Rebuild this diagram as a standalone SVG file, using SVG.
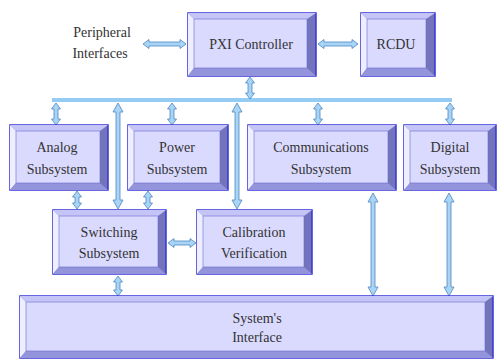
<svg xmlns="http://www.w3.org/2000/svg" width="501" height="360" viewBox="0 0 501 360">
<style>
.o{fill:#7474bc;stroke:#3434d8;stroke-width:1.5}
.t{fill:#c4c4f6}
.l{fill:#eeeeff}
.b{fill:#9494dc}
.f{fill:#dadaff;stroke:#6a6ad0;stroke-width:0.6}
.tx{font-size:14px;fill:#333333;text-anchor:middle}
.ar{fill:#a8d4f6;stroke:#4f86c0;stroke-width:0.8}
</style>
<rect width="501" height="360" fill="#ffffff"/>
<g id="connectors">
<rect x="52" y="98" width="400" height="4" fill="#94ccf4"/>
<polygon class="ar" points="143,44 149,39.5 149,42 180,42 180,39.5 186,44 180,48.5 180,46 149,46 149,48.5"/>
<polygon class="ar" points="318,44 324,39.5 324,42 352,42 352,39.5 358,44 352,48.5 352,46 324,46 324,48.5"/>
<polygon class="ar" points="250,77 254.5,83 252,83 252,93 254.5,93 250,99 245.5,93 248,93 248,83 245.5,83"/>
<polygon class="ar" points="56,103 60.5,109 58,109 58,119 60.5,119 56,125 51.5,119 54,119 54,109 51.5,109"/>
<polygon class="ar" points="172,103 176.5,109 174,109 174,119 176.5,119 172,125 167.5,119 170,119 170,109 167.5,109"/>
<polygon class="ar" points="318,103 322.5,109 320,109 320,119 322.5,119 318,125 313.5,119 316,119 316,109 313.5,109"/>
<polygon class="ar" points="450,103 454.5,109 452,109 452,119 454.5,119 450,125 445.5,119 448,119 448,109 445.5,109"/>
<polygon class="ar" points="118,103 123,112 120,112 120,200 123,200 118,209 113,200 116,200 116,112 113,112"/>
<polygon class="ar" points="237,103 242,112 239,112 239,200 242,200 237,209 232,200 235,200 235,112 232,112"/>
<polygon class="ar" points="77,191 81.5,197 79,197 79,203 81.5,203 77,209 72.5,203 75,203 75,197 72.5,197"/>
<polygon class="ar" points="148,191 152.5,197 150,197 150,203 152.5,203 148,209 143.5,203 146,203 146,197 143.5,197"/>
<polygon class="ar" points="168,243 174,238.5 174,241 190,241 190,238.5 196,243 190,247.5 190,245 174,245 174,247.5"/>
<polygon class="ar" points="118,276 122.5,282 120,282 120,290 122.5,290 118,296 113.5,290 116,290 116,282 113.5,282"/>
<polygon class="ar" points="373,193 378,202 375,202 375,287 378,287 373,296 368,287 371,287 371,202 368,202"/>
<polygon class="ar" points="449,193 454,202 451,202 451,287 454,287 449,296 444,287 447,287 447,202 444,202"/>
</g>
<g font-family="Liberation Serif, serif">
<g id="pxi">
<rect class="o" x="188" y="13" width="128" height="63"/>
<polygon class="t" points="188,13 316,13 307,19 194,19"/>
<polygon class="l" points="188,13 194,19 194,68 188,76"/>
<polygon class="b" points="188,76 194,68 307,68 316,76"/>
<rect class="f" x="194" y="19" width="113" height="49"/>
<text class="tx" x="251" y="49">PXI Controller</text>
</g>
<g id="rcdu">
<rect class="o" x="361" y="13" width="74" height="63"/>
<polygon class="t" points="361,13 435,13 426,19 367,19"/>
<polygon class="l" points="361,13 367,19 367,68 361,76"/>
<polygon class="b" points="361,76 367,68 426,68 435,76"/>
<rect class="f" x="367" y="19" width="59" height="49"/>
<text class="tx" x="396" y="49">RCDU</text>
</g>
<g id="peripheral">
<text class="tx" x="102" y="37">Peripheral</text>
<text class="tx" x="100" y="58">Interfaces</text>
</g>
<g id="analog">
<rect class="o" x="10" y="125" width="98" height="65"/>
<polygon class="t" points="10,125 108,125 100,131 16,131"/>
<polygon class="l" points="10,125 16,131 16,183 10,190"/>
<polygon class="b" points="10,190 16,183 100,183 108,190"/>
<rect class="f" x="16" y="131" width="84" height="52"/>
<text class="tx" x="57" y="152">Analog</text>
<text class="tx" x="57" y="174">Subsystem</text>
</g>
<g id="power">
<rect class="o" x="128" y="125" width="100" height="65"/>
<polygon class="t" points="128,125 228,125 220,131 134,131"/>
<polygon class="l" points="128,125 134,131 134,183 128,190"/>
<polygon class="b" points="128,190 134,183 220,183 228,190"/>
<rect class="f" x="134" y="131" width="86" height="52"/>
<text class="tx" x="177" y="152">Power</text>
<text class="tx" x="177" y="174">Subsystem</text>
</g>
<g id="communications">
<rect class="o" x="248" y="125" width="148" height="65"/>
<polygon class="t" points="248,125 396,125 388,131 254,131"/>
<polygon class="l" points="248,125 254,131 254,183 248,190"/>
<polygon class="b" points="248,190 254,183 388,183 396,190"/>
<rect class="f" x="254" y="131" width="134" height="52"/>
<text class="tx" x="321" y="152">Communications</text>
<text class="tx" x="321" y="174">Subsystem</text>
</g>
<g id="digital">
<rect class="o" x="404" y="125" width="92" height="65"/>
<polygon class="t" points="404,125 496,125 488,131 410,131"/>
<polygon class="l" points="404,125 410,131 410,183 404,190"/>
<polygon class="b" points="404,190 410,183 488,183 496,190"/>
<rect class="f" x="410" y="131" width="78" height="52"/>
<text class="tx" x="450" y="152">Digital</text>
<text class="tx" x="450" y="174">Subsystem</text>
</g>
<g id="switching">
<rect class="o" x="53" y="210" width="113" height="64"/>
<polygon class="t" points="53,210 166,210 158,216 59,216"/>
<polygon class="l" points="53,210 59,216 59,267 53,274"/>
<polygon class="b" points="53,274 59,267 158,267 166,274"/>
<rect class="f" x="59" y="216" width="99" height="51"/>
<text class="tx" x="109" y="237">Switching</text>
<text class="tx" x="109" y="258">Subsystem</text>
</g>
<g id="calibration">
<rect class="o" x="197" y="210" width="115" height="64"/>
<polygon class="t" points="197,210 312,210 304,216 203,216"/>
<polygon class="l" points="197,210 203,216 203,267 197,274"/>
<polygon class="b" points="197,274 203,267 304,267 312,274"/>
<rect class="f" x="203" y="216" width="101" height="51"/>
<text class="tx" x="254" y="237">Calibration</text>
<text class="tx" x="254" y="258">Verification</text>
</g>
<g id="interface">
<rect class="o" x="20" y="296" width="473" height="62"/>
<polygon class="t" points="20,296 493,296 485,302 26,302"/>
<polygon class="l" points="20,296 26,302 26,351 20,358"/>
<polygon class="b" points="20,358 26,351 485,351 493,358"/>
<rect class="f" x="26" y="302" width="459" height="49"/>
<text class="tx" x="257" y="323">System's</text>
<text class="tx" x="257" y="342">Interface</text>
</g>
</g>
</svg>
